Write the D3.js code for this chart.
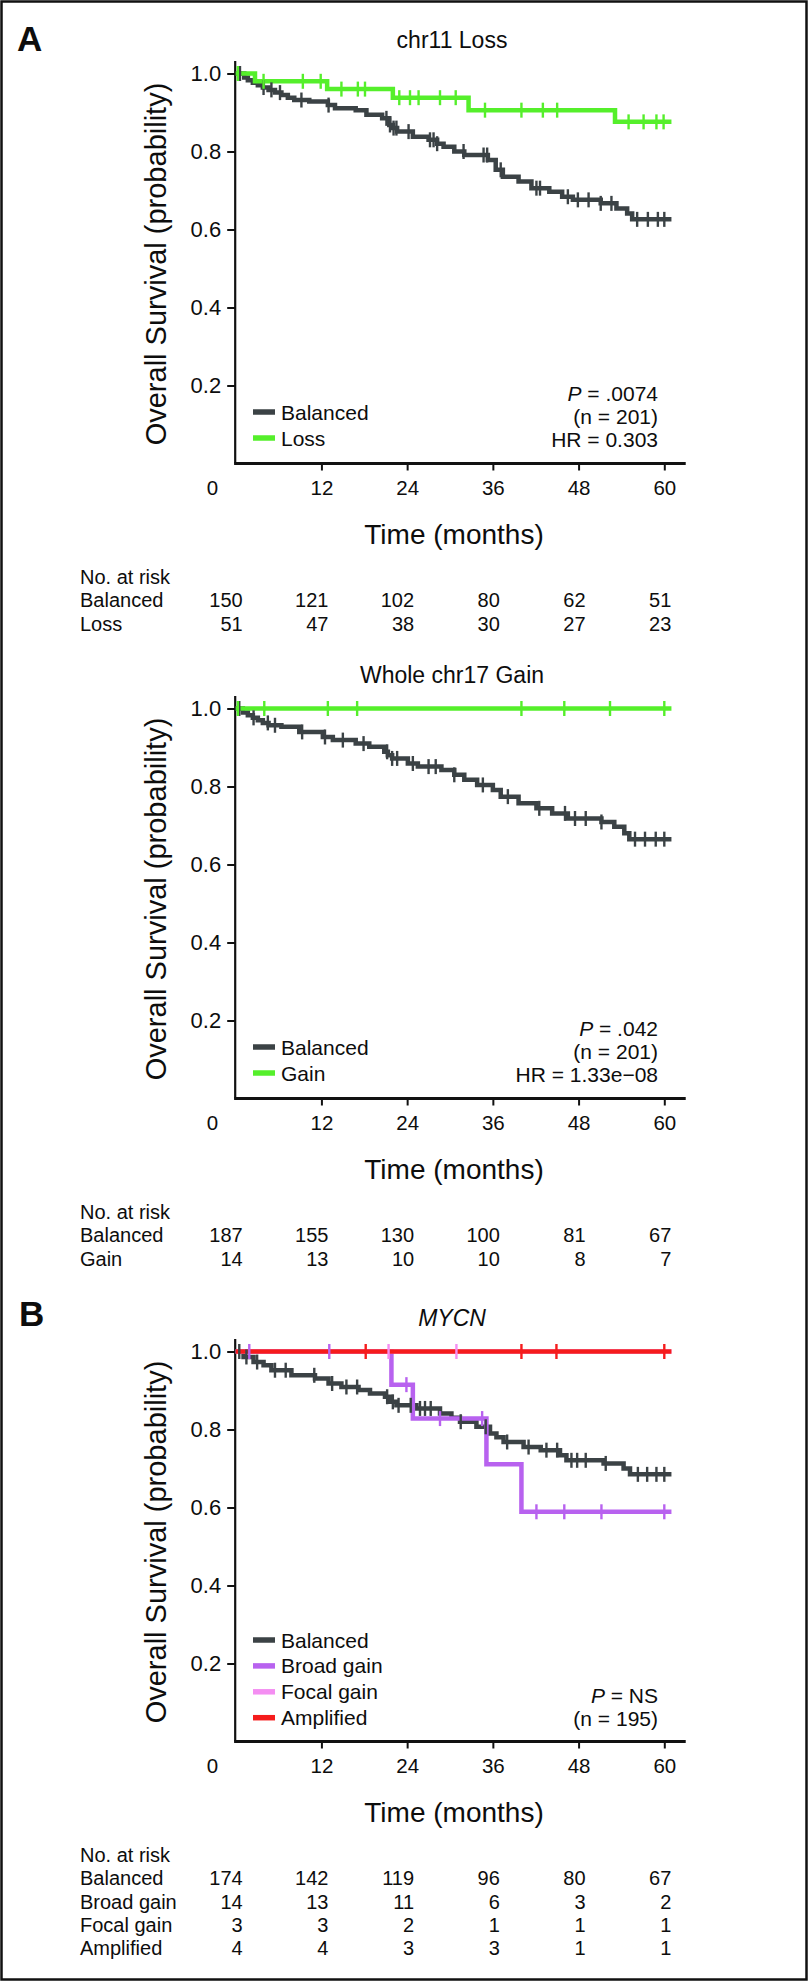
<!DOCTYPE html>
<html><head><meta charset="utf-8">
<script src="https://cdn.jsdelivr.net/npm/d3@7"></script>
<style>
body{margin:0;background:#fff}
svg{display:block}
text{font-family:"Liberation Sans",Arial,Helvetica,sans-serif;fill:#0d0d0d}
</style>
</head><body>
<svg id="c" width="809" height="1982"></svg>
<script>
// ---------- shared axis ticks ----------
const timeTicks = [0, 12, 24, 36, 48, 60];
const survTicks = [0.2, 0.4, 0.6, 0.8, 1.0];
const riskTimes = [0, 12, 24, 36, 48, 60];

// ---------- colours ----------
const colBalanced = "#3b4245";
const colGreen = "#55ef2b";
const colBroad = "#b862ef";
const colFocal = "#f48ef2";
const colAmp = "#f51c1c";

// ---------- Panel A1: chr11 Loss ----------
const chr11BalancedSteps = [[0,1],[1.2,0.99],[1.7,0.983],[2.4,0.976],[3.1,0.97],[3.8,0.964],[4.6,0.958],[5.5,0.951],[6.4,0.945],[7.3,0.938],[8.2,0.932],[10.3,0.928],[12.9,0.919],[13.9,0.911],[16.8,0.906],[18.3,0.894],[20.5,0.885],[21.5,0.868],[22.0,0.86],[22.6,0.851],[24.8,0.838],[27.0,0.83],[28.2,0.82],[29.1,0.812],[30.6,0.8],[32.0,0.791],[35.3,0.778],[36.4,0.753],[37.4,0.735],[39.6,0.723],[41.4,0.706],[43.9,0.697],[45.7,0.684],[47.2,0.676],[51.1,0.667],[53.3,0.654],[54.8,0.641],[55.5,0.626]];
const chr11BalancedCensor = [0.6,3.9,5.0,6.2,9.2,13.0,21.1,21.6,22.1,22.5,24.2,27.2,27.7,28.2,31.9,34.7,35.2,37.1,42.1,42.6,46.5,47.9,49.4,51.1,52.6,56.2,57.7,59.1,60.0];
const chr11LossSteps = [[0,1],[2.7,0.98],[12.8,0.96],[22.0,0.938],[32.6,0.906],[53.1,0.876]];
const chr11LossCensor = [0.3,3.9,9.4,11.9,14.8,17.1,18.1,22.9,24.4,25.6,28.6,30.8,34.9,40.0,43.0,45.0,55.0,57.1,58.9,59.9];
const chr11Groups = ["Balanced", "Loss"];
const chr11RiskBalanced = [150, 121, 102, 80, 62, 51];
const chr11RiskLoss = [51, 47, 38, 30, 27, 23];
const chr11Stats = ["P = .0074", "(n = 201)", "HR = 0.303"];

// ---------- Panel A2: Whole chr17 Gain ----------
const chr17BalancedSteps = [[0,1],[1.0,0.99],[1.7,0.983],[2.4,0.976],[3.1,0.97],[3.8,0.963],[4.6,0.957],[6.4,0.953],[8.9,0.94],[12.2,0.927],[13.6,0.919],[16.8,0.91],[18.7,0.902],[20.8,0.889],[21.3,0.88],[21.9,0.872],[24.1,0.859],[25.5,0.851],[28.8,0.842],[30.6,0.83],[32.0,0.817],[33.8,0.804],[36.0,0.791],[37.1,0.774],[39.6,0.757],[42.1,0.744],[44.3,0.731],[46.5,0.718],[51.2,0.709],[53.0,0.697],[54.4,0.68],[55.1,0.665]];
const chr17BalancedCensor = [0.5,2.5,4.5,5.5,9.3,12.5,15.0,17.9,21.2,21.9,22.6,24.8,27.0,28.0,30.6,34.6,38.1,42.5,46.1,47.5,49.0,51.2,55.9,57.3,58.8,60.0];
const chr17GainSteps = [[0,1]];
const chr17GainCensor = [0.3,4.0,12.9,17.0,40.0,46.0,52.4,60.0];
const chr17Groups = ["Balanced", "Gain"];
const chr17RiskBalanced = [187, 155, 130, 100, 81, 67];
const chr17RiskGain = [14, 13, 10, 10, 8, 7];
const chr17Stats = ["P = .042", "(n = 201)", "HR = 1.33e\u221208"];

// ---------- Panel B: MYCN ----------
const mycnBalancedSteps = [[0,1],[1.1,0.986],[2.5,0.973],[3.9,0.965],[5.0,0.952],[7.8,0.939],[11.1,0.931],[13.0,0.918],[14.8,0.909],[17.2,0.901],[18.8,0.892],[20.9,0.884],[21.6,0.871],[22.5,0.862],[25.3,0.854],[28.6,0.841],[30.2,0.83],[31.4,0.82],[33.7,0.807],[35.6,0.79],[36.5,0.78],[37.5,0.768],[40.3,0.755],[42.7,0.747],[45.4,0.734],[46.3,0.721],[51.5,0.713],[54.3,0.7],[55.2,0.685]];
const mycnBalancedCensor = [0.5,1.5,3.0,5.5,7.0,11.0,13.5,15.5,17.0,21.2,22.0,22.8,24.5,25.8,26.5,27.3,31.5,35.0,38.0,41.0,43.5,45.0,47.0,47.8,49.0,51.8,56.3,57.6,58.9,60.0];
const mycnBroadSteps = [[0,1],[21.8,0.915],[24.8,0.828],[35.1,0.711],[40.0,0.589]];
const mycnBroadCensor = [1.9,13.1,23.9,28.6,34.5,42.1,46.0,51.2,60.0];
const mycnFocalSteps = [[0,1]];
const mycnFocalCensor = [21.4,30.9];
const mycnAmpSteps = [[0,1]];
const mycnAmpCensor = [18.2,40.0,44.9,60.0];
const mycnGroups = ["Balanced", "Broad gain", "Focal gain", "Amplified"];
const mycnRiskBalanced = [174, 142, 119, 96, 80, 67];
const mycnRiskBroad = [14, 13, 11, 6, 3, 2];
const mycnRiskFocal = [3, 3, 2, 1, 1, 1];
const mycnRiskAmp = [4, 4, 3, 3, 1, 1];
const mycnStats = ["P = NS", "(n = 195)"];

// ---------- panel definitions (built from the arrays above) ----------
const panels = [
  { off: 0, letter: "A", title: "chr11 Loss", italic: false,
    curves: [
      { steps: chr11BalancedSteps, censor: chr11BalancedCensor, color: colBalanced },
      { steps: chr11LossSteps, censor: chr11LossCensor, color: colGreen }],
    groups: chr11Groups, legendColors: [colBalanced, colGreen],
    stats: chr11Stats, risk: [chr11RiskBalanced, chr11RiskLoss] },
  { off: 635, letter: null, title: "Whole chr17 Gain", italic: false,
    curves: [
      { steps: chr17BalancedSteps, censor: chr17BalancedCensor, color: colBalanced },
      { steps: chr17GainSteps, censor: chr17GainCensor, color: colGreen }],
    groups: chr17Groups, legendColors: [colBalanced, colGreen],
    stats: chr17Stats, risk: [chr17RiskBalanced, chr17RiskGain] },
  { off: 1278, letter: "B", title: "MYCN", italic: true,
    curves: [
      { steps: mycnBalancedSteps, censor: mycnBalancedCensor, color: colBalanced },
      { steps: mycnBroadSteps, censor: mycnBroadCensor, color: colBroad },
      { steps: mycnFocalSteps, censor: mycnFocalCensor, color: colFocal },
      { steps: mycnAmpSteps, censor: mycnAmpCensor, color: colAmp }],
    groups: mycnGroups, legendColors: [colBalanced, colBroad, colFocal, colAmp],
    stats: mycnStats, risk: [mycnRiskBalanced, mycnRiskBroad, mycnRiskFocal, mycnRiskAmp] }
];

const svg = d3.select("#c");
svg.append("rect").attr("x", 1.5).attr("y", 1.5).attr("width", 805).attr("height", 1978)
  .attr("fill", "none").attr("stroke", "#111").attr("stroke-width", 2.5);

const x = d3.scaleLinear().domain([0, 60]).range([235.7, 664.3]);
const tEnd = 61;

function survAt(steps, t) {
  let s = steps[0][1];
  for (const p of steps) { if (p[0] <= t) s = p[1]; }
  return s;
}

function drawPanel(p) {
  const o = p.off;
  const y = d3.scaleLinear().domain([0, 1]).range([463.5 + o, 73.5 + o]);
  const g = svg.append("g");

  if (p.letter) {
    g.append("text").attr("x", p.letter === "A" ? 17 : 19).attr("y", p.letter === "A" ? 51 : 1326)
      .attr("font-size", 35).attr("font-weight", "bold").text(p.letter);
  }
  g.append("text").attr("x", 452).attr("y", 39.5 + o).attr("text-anchor", "middle")
    .attr("dominant-baseline", "central").attr("font-size", 23)
    .attr("font-style", p.italic ? "italic" : "normal").text(p.title);

  // Y axis
  const ya = g.append("g").attr("transform", `translate(${x(0) - 0.5},0)`)
    .call(d3.axisLeft(y).tickValues(survTicks).tickSize(8).tickPadding(6).tickFormat(d3.format(".1f")));
  ya.select(".domain").remove();
  ya.selectAll(".tick line").attr("stroke", "#111").attr("stroke-width", 2);
  ya.selectAll(".tick text").attr("font-size", 22).attr("font-family", "Liberation Sans, Arial, sans-serif").attr("fill", "#0d0d0d");
  g.append("line").attr("x1", x(0) - 0.5).attr("x2", x(0) - 0.5).attr("y1", y(0)).attr("y2", y(1.032))
    .attr("stroke", "#111").attr("stroke-width", 2.2);

  // X axis
  const xa = g.append("g").attr("transform", `translate(0,${y(0)})`)
    .call(d3.axisBottom(x).tickValues(timeTicks).tickSize(7).tickPadding(10).tickFormat(d3.format("d")));
  xa.select(".domain").remove();
  xa.selectAll(".tick line").attr("stroke", "#111").attr("stroke-width", 2);
  xa.selectAll(".tick text").attr("font-size", 20.5).attr("font-family", "Liberation Sans, Arial, sans-serif").attr("fill", "#0d0d0d");
  xa.selectAll(".tick").filter(d => d === 0).select("line").remove();
  xa.selectAll(".tick").filter(d => d === 0).select("text").attr("x", 212 - x(0));
  g.append("line").attr("x1", x(0) - 1.6).attr("x2", x(63)).attr("y1", y(0)).attr("y2", y(0))
    .attr("stroke", "#111").attr("stroke-width", 2.8);

  g.append("text").attr("x", 454).attr("y", 534 + o).attr("text-anchor", "middle")
    .attr("dominant-baseline", "central").attr("font-size", 28).text("Time (months)");
  g.append("text").attr("transform", `translate(156,${264 + o}) rotate(-90)`)
    .attr("text-anchor", "middle").attr("dominant-baseline", "central")
    .attr("font-size", 29).text("Overall Survival (probability)");

  // Curves
  const line = d3.line().x(d => x(d[0])).y(d => y(d[1])).curve(d3.curveStepAfter);
  p.curves.forEach(c => {
    const pts = c.steps.concat([[tEnd, c.steps[c.steps.length - 1][1]]]);
    g.append("path").attr("d", line(pts)).attr("fill", "none").attr("stroke", c.color)
      .attr("stroke-width", 4.5).attr("stroke-linejoin", "miter");
  });
  p.curves.forEach(c => {
    g.selectAll(null).data(c.censor).enter().append("line")
      .attr("x1", d => x(d)).attr("x2", d => x(d))
      .attr("y1", d => y(survAt(c.steps, d)) - 7.5).attr("y2", d => y(survAt(c.steps, d)) + 7.5)
      .attr("stroke", c.color).attr("stroke-width", 2.4);
  });

  // Legend
  const nL = p.groups.length;
  const legY0 = nL === 2 ? 412 + o : 1640;
  const legStep = nL === 2 ? 26 : 25.9;
  p.groups.forEach((name, i) => {
    const ly = legY0 + i * legStep;
    g.append("line").attr("x1", 253).attr("x2", 275).attr("y1", ly).attr("y2", ly)
      .attr("stroke", p.legendColors[i]).attr("stroke-width", 5.5);
    g.append("text").attr("x", 281).attr("y", ly).attr("dominant-baseline", "central")
      .attr("font-size", 21).text(name);
  });

  // Stats
  const statY0 = p.stats.length === 3 ? 393 + o : 1695;
  p.stats.forEach((s, i) => {
    const t = g.append("text").attr("x", 658).attr("y", statY0 + i * 23).attr("text-anchor", "end")
      .attr("dominant-baseline", "central").attr("font-size", 21);
    if (s.startsWith("P ")) {
      t.append("tspan").attr("font-style", "italic").text("P");
      t.append("tspan").text(s.slice(1));
    } else t.text(s);
  });

  // Risk table
  const r0 = 577 + o;
  g.append("text").attr("x", 80).attr("y", r0).attr("dominant-baseline", "central")
    .attr("font-size", 20).text("No. at risk");
  p.risk.forEach((row, i) => {
    const ry = r0 + (i + 1) * 23.3;
    g.append("text").attr("x", 80).attr("y", ry).attr("dominant-baseline", "central")
      .attr("font-size", 20).text(p.groups[i]);
    g.selectAll(null).data(row).enter().append("text")
      .attr("x", (d, j) => x(riskTimes[j]) + 7).attr("y", ry)
      .attr("text-anchor", "end").attr("dominant-baseline", "central")
      .attr("font-size", 20).text(d => d);
  });
}

panels.forEach(drawPanel);
</script>
</body></html>
